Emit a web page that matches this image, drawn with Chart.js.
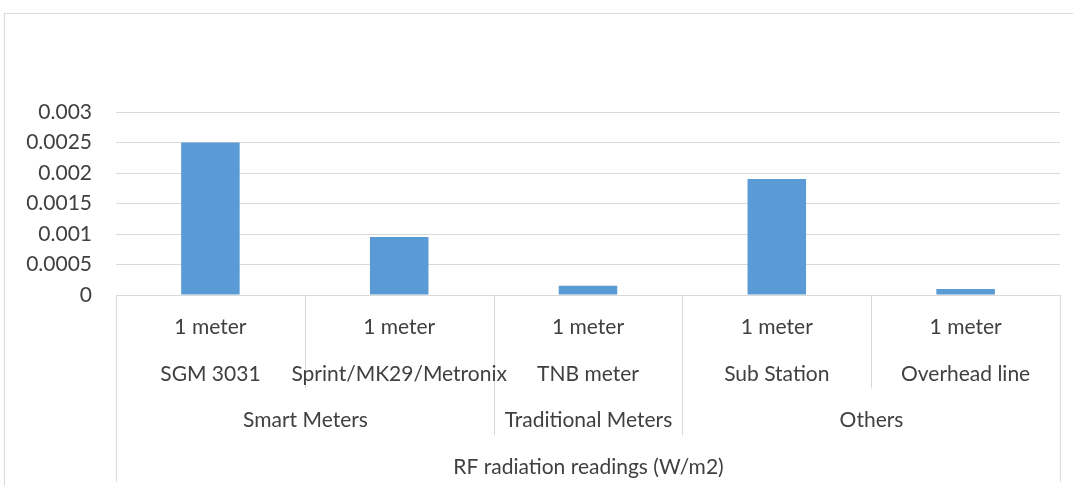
<!DOCTYPE html>
<html>
<head>
<meta charset="utf-8">
<script src="https://cdn.jsdelivr.net/npm/chart.js@4/dist/chart.umd.min.js"></script>
<style>
    html, body { margin: 0; padding: 0; background: #fff; overflow: hidden; }
    #wrap { position: relative; width: 1073px; height: 486px; }
    #frame { position: absolute; left: 4px; top: 13px; width: 1100px; height: 520px; border: 1px solid #d9d9d9; box-sizing: border-box; }
    canvas { position: absolute; left: 0; top: 0; }
</style>
</head>
<body>
<div id="wrap">
    <div id="frame"></div>
    <canvas id="rfChart" width="1073" height="486"></canvas>
</div>
<script>
const distances = ['1 meter', '1 meter', '1 meter', '1 meter', '1 meter'];
const devices = ['SGM 3031', 'Sprint/MK29/Metronix', 'TNB meter', 'Sub Station', 'Overhead line'];
const groupNames = ['Smart Meters', 'Traditional Meters', 'Others'];
const groupSpans = [2, 1, 2];
const topLabel = 'RF radiation readings (W/m2)';
const readings = [0.0025, 0.00095, 0.00015, 0.0019, 0.0001];
const yMin = 0, yMax = 0.003, yStep = 0.0005;

const textColor = '#404040';
const lineColor = '#d9d9d9';
const fontFamily = 'Lato, "Open Sans", sans-serif';
const fontSize = 21;

// draws Excel-style multi-level category labels under the plot
const multiLevelAxis = {
    id: 'multiLevelAxis',
    afterDraw(chart) {
        const { ctx, chartArea } = chart;
        const x = chart.scales.x;
        const half = (x.getPixelForValue(1) - x.getPixelForValue(0)) / 2;
        const edge = (i) => Math.round(x.getPixelForValue(i) - half) + 0.5;
        const base = chartArea.bottom;
        const rowH = 46.7;

        ctx.save();
        ctx.strokeStyle = lineColor;
        ctx.lineWidth = 1;
        const vline = (px, rows) => {
            ctx.beginPath();
            ctx.moveTo(px, base);
            ctx.lineTo(px, base + rows * rowH);
            ctx.stroke();
        };

        // group boundaries
        const groupEdges = [0];
        groupSpans.forEach((s) => groupEdges.push(groupEdges[groupEdges.length - 1] + s));
        for (let i = 0; i <= devices.length; i++) {
            let rows = 2;
            if (groupEdges.includes(i)) rows = 3;
            if (i === 0 || i === devices.length) rows = 4;
            vline(edge(i), rows);
        }

        ctx.fillStyle = textColor;
        ctx.font = fontSize + 'px ' + fontFamily;
        ctx.textAlign = 'center';
        ctx.textBaseline = 'alphabetic';
        const y0 = base + 39;
        devices.forEach((d, i) => {
            const cx = x.getPixelForValue(i);
            ctx.fillText(distances[i], cx, y0);
            ctx.fillText(d, cx, y0 + rowH);
        });
        groupNames.forEach((g, k) => {
            const cx = (edge(groupEdges[k]) + edge(groupEdges[k + 1])) / 2;
            ctx.fillText(g, cx, y0 + 2 * rowH);
        });
        ctx.fillText(topLabel, (edge(0) + edge(devices.length)) / 2, y0 + 3 * rowH);
        ctx.restore();
    }
};

new Chart(document.getElementById('rfChart'), {
    type: 'bar',
    data: {
        labels: devices,
        datasets: [{
            data: readings,
            backgroundColor: '#5b9bd5',
            categoryPercentage: 1,
            barPercentage: 0.31,
        }],
    },
    options: {
        responsive: false,
        animation: false,
        layout: { padding: { top: 112, right: 13, left: 0, bottom: 0 } },
        plugins: { legend: { display: false }, tooltip: { enabled: false } },
        scales: {
            x: {
                grid: { display: false },
                border: { display: true, color: lineColor },
                ticks: { display: false },
                afterFit: (s) => { s.height = 191; },
            },
            y: {
                min: yMin,
                max: yMax,
                afterFit: (s) => { s.width = 116; },
                border: { display: false },
                grid: { color: lineColor, drawTicks: false },
                ticks: {
                    stepSize: yStep,
                    padding: 24,
                    color: textColor,
                    font: { family: fontFamily, size: fontSize },
                    callback: (v) => String(+v.toFixed(4)),
                },
            },
        },
    },
    plugins: [multiLevelAxis],
});
</script>
</body>
</html>
